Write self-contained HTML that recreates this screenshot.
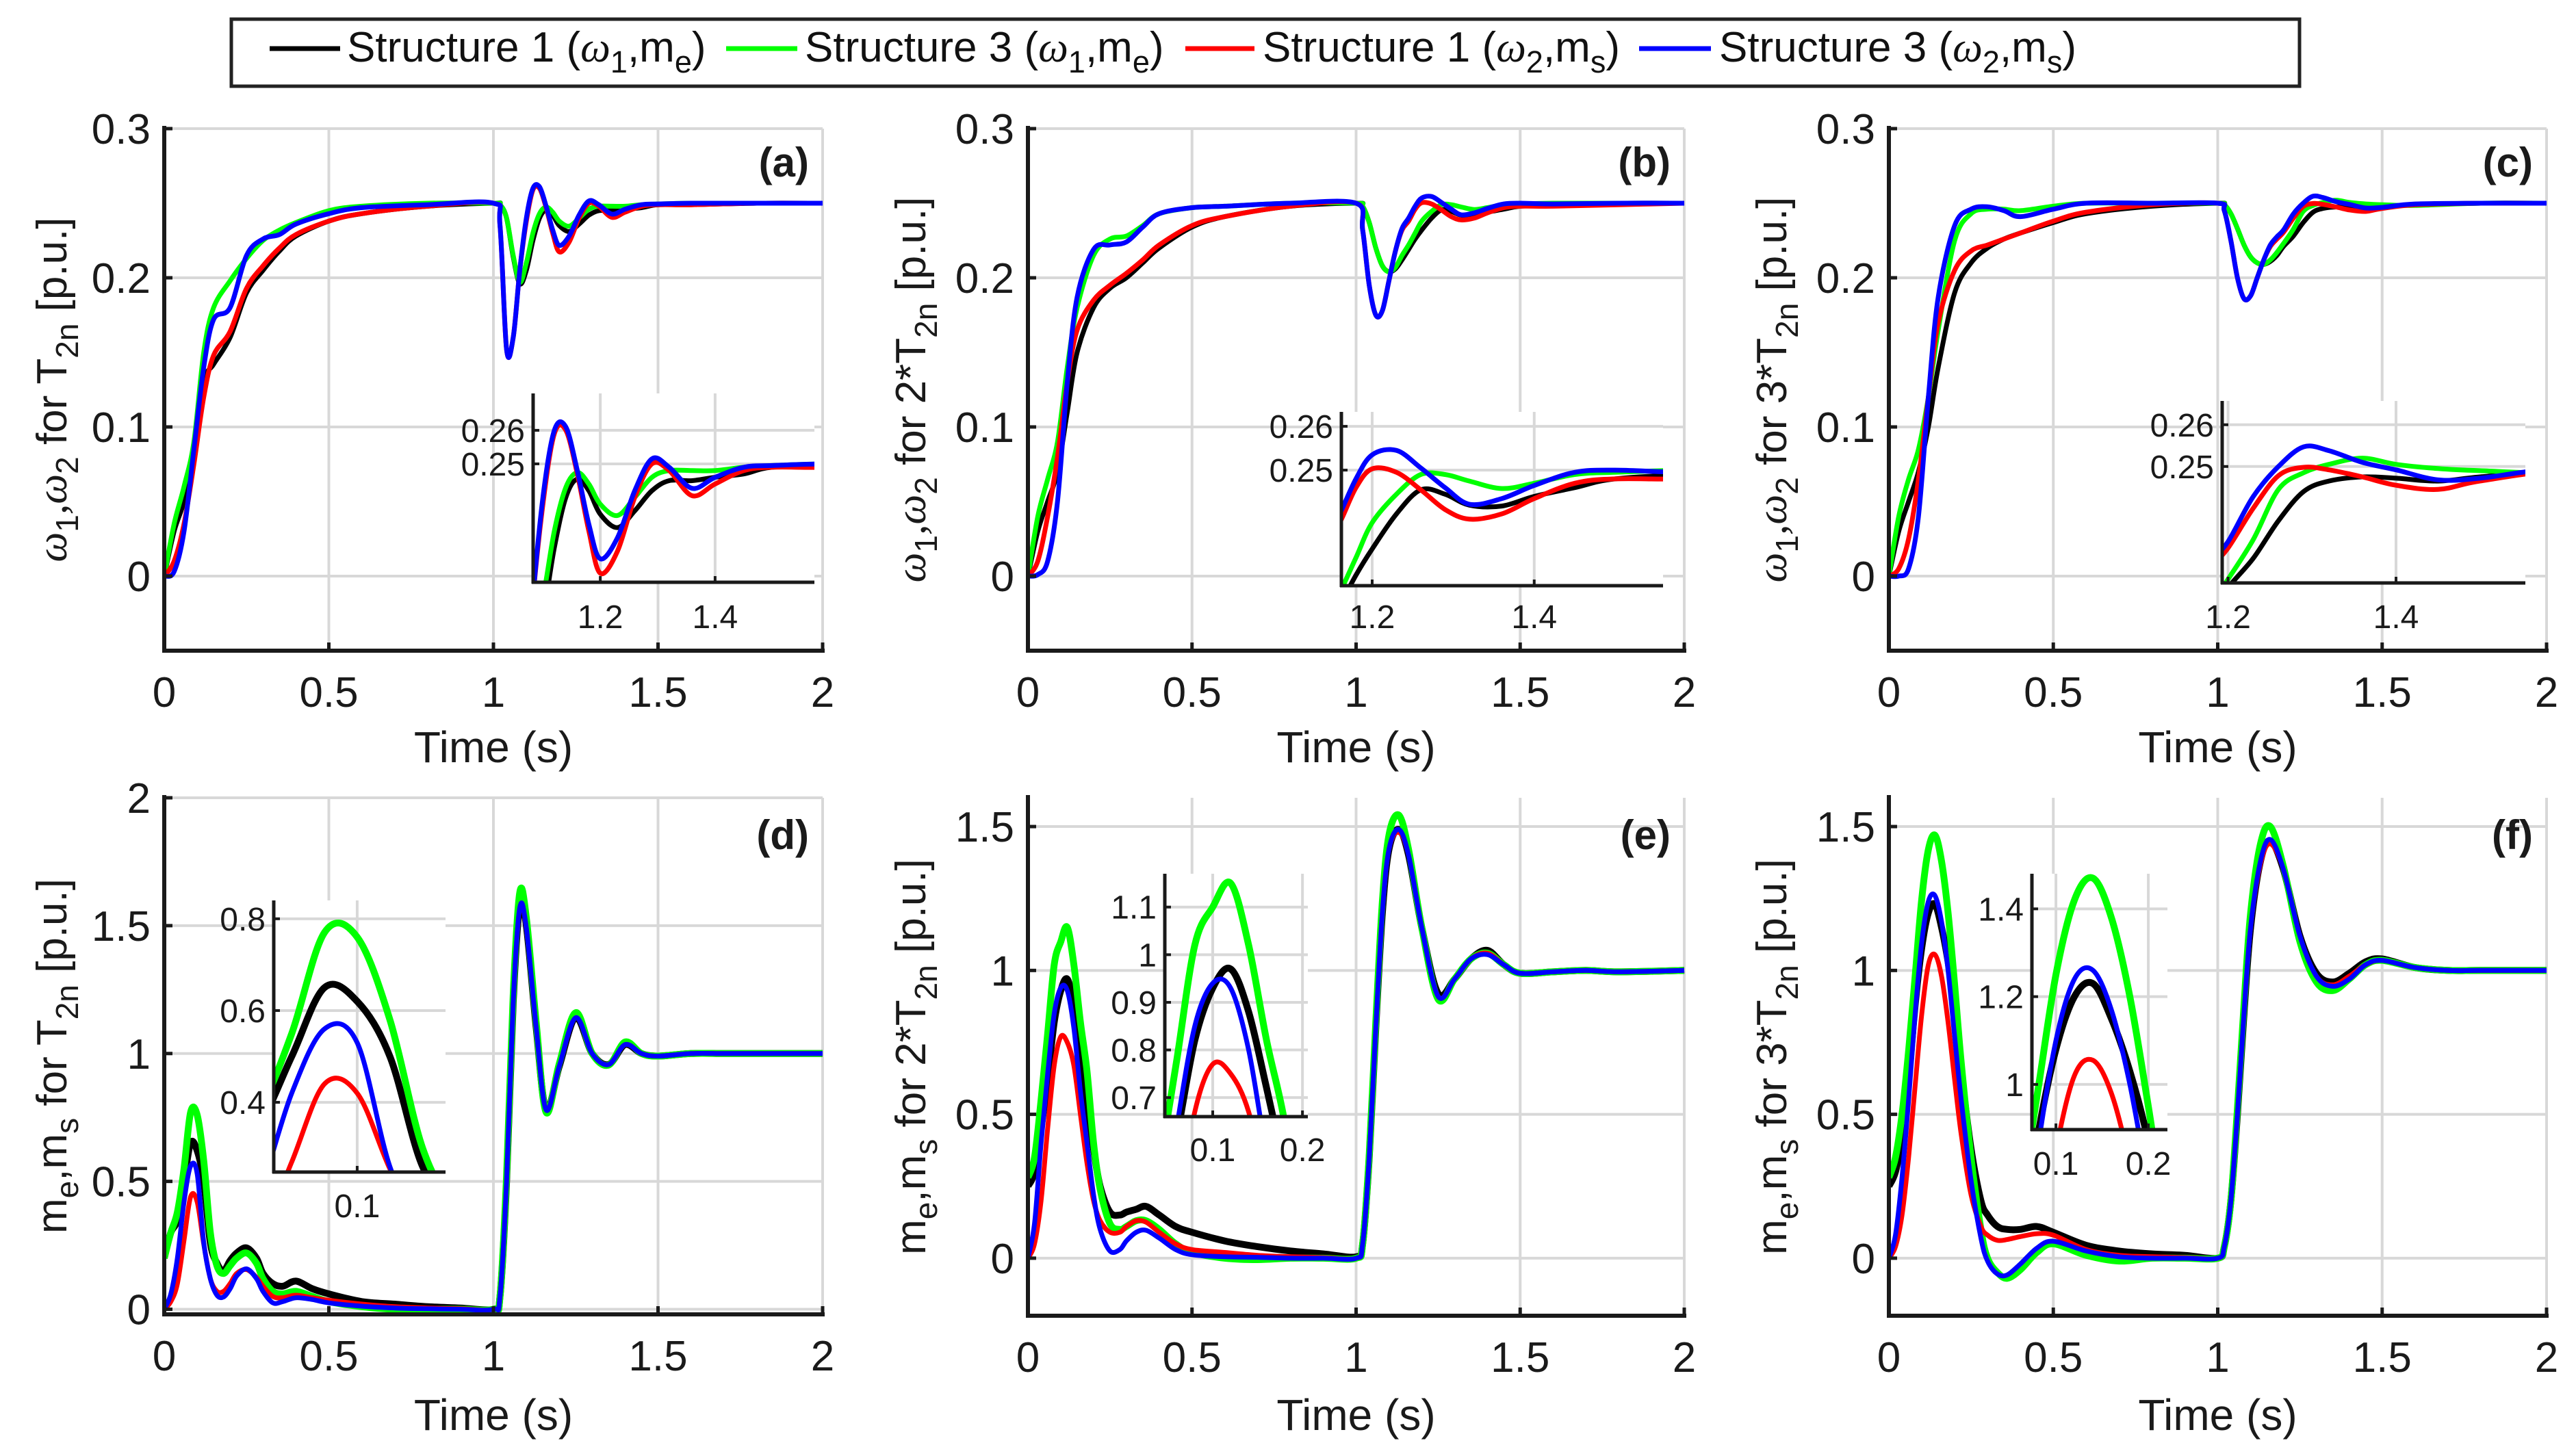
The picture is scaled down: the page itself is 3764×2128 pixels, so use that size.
<!DOCTYPE html>
<html><head><meta charset="utf-8"><style>
html,body{margin:0;padding:0;background:#fff;width:3764px;height:2128px;overflow:hidden;}
svg{display:block;font-family:"Liberation Sans",sans-serif;}
</style></head><body>
<svg id="fig" xmlns="http://www.w3.org/2000/svg" width="3764" height="2128" viewBox="0 0 3764 2128">
<rect x="0" y="0" width="3764" height="2128" fill="#fff"/>
<g id="legend">
<rect x="338" y="28" width="3022" height="98" fill="#fff" stroke="#222" stroke-width="5"/>
<line x1="394" y1="71" x2="497" y2="71" stroke="#000" stroke-width="7"/>
<text x="507" y="90" font-size="62" fill="#111">Structure 1 (<tspan font-family="Liberation Serif" font-style="italic">ω</tspan><tspan font-size="45" dy="16">1</tspan><tspan dy="-16">,m</tspan><tspan font-size="45" dy="16">e</tspan><tspan dy="-16">)</tspan></text>
<line x1="1061" y1="71" x2="1165" y2="71" stroke="#00ff00" stroke-width="7"/>
<text x="1176" y="90" font-size="62" fill="#111">Structure 3 (<tspan font-family="Liberation Serif" font-style="italic">ω</tspan><tspan font-size="45" dy="16">1</tspan><tspan dy="-16">,m</tspan><tspan font-size="45" dy="16">e</tspan><tspan dy="-16">)</tspan></text>
<line x1="1732" y1="71" x2="1833" y2="71" stroke="#ff0000" stroke-width="7"/>
<text x="1845" y="90" font-size="62" fill="#111">Structure 1 (<tspan font-family="Liberation Serif" font-style="italic">ω</tspan><tspan font-size="45" dy="16">2</tspan><tspan dy="-16">,m</tspan><tspan font-size="45" dy="16">s</tspan><tspan dy="-16">)</tspan></text>
<line x1="2395" y1="71" x2="2500" y2="71" stroke="#0000ff" stroke-width="7"/>
<text x="2512" y="90" font-size="62" fill="#111">Structure 3 (<tspan font-family="Liberation Serif" font-style="italic">ω</tspan><tspan font-size="45" dy="16">2</tspan><tspan dy="-16">,m</tspan><tspan font-size="45" dy="16">s</tspan><tspan dy="-16">)</tspan></text>
</g>
</svg>
<script>
// ---------- data ----------
const tTop = [0,0.03,0.06,0.09,0.12,0.15,0.2,0.25,0.3,0.35,0.4,0.5,0.6,0.8,1.0,1.02,1.04,1.06,1.08,1.1,1.12,1.14,1.16,1.18,1.2,1.23,1.26,1.29,1.32,1.36,1.4,1.45,1.5,1.6,1.8,2.0];
const tBot = [0,0.02,0.04,0.06,0.08,0.1,0.12,0.14,0.16,0.18,0.2,0.22,0.25,0.28,0.3,0.33,0.36,0.4,0.45,0.5,0.6,0.7,0.8,0.9,1.0,1.02,1.04,1.06,1.08,1.1,1.13,1.16,1.2,1.25,1.3,1.35,1.4,1.45,1.5,1.6,1.7,1.8,2.0];

// panel (a)
const aBlack = [0,0.03,0.05,0.08,0.13,0.142,0.16,0.19,0.205,0.218,0.228,0.238,0.243,0.248,0.25, 0.249,0.24,0.214,0.196,0.205,0.225,0.24,0.2455,0.242,0.235,0.231,0.236,0.242,0.245,0.245,0.246,0.247,0.249,0.249,0.25,0.25];
const aGreen = [0,0.035,0.06,0.09,0.15,0.18,0.198,0.213,0.225,0.232,0.237,0.245,0.248,0.25,0.25, 0.249,0.24,0.215,0.197,0.21,0.23,0.243,0.2474,0.244,0.238,0.2346,0.24,0.246,0.248,0.248,0.248,0.249,0.2495,0.25,0.25,0.25];
const aRed   = [0,0.01,0.035,0.075,0.12,0.148,0.164,0.193,0.208,0.22,0.229,0.238,0.243,0.248,0.25, 0.235,0.152,0.16,0.205,0.238,0.259,0.26,0.247,0.23,0.2174,0.224,0.24,0.25,0.248,0.2405,0.244,0.248,0.249,0.249,0.25,0.25];
const aBlue  = [0,0.003,0.03,0.085,0.14,0.172,0.18,0.215,0.226,0.229,0.236,0.243,0.247,0.249,0.25, 0.235,0.152,0.16,0.205,0.24,0.26,0.261,0.248,0.232,0.2217,0.228,0.242,0.2515,0.249,0.2427,0.246,0.249,0.2495,0.25,0.25,0.25];
// panel (b)
const bBlack = [0,0.03,0.05,0.07,0.11,0.15,0.18,0.193,0.2,0.21,0.22,0.234,0.241,0.248, 0.25,0.248,0.237,0.22,0.208,0.204,0.206,0.212,0.219,0.226,0.232,0.24,0.2455,0.2445,0.242,0.2418,0.244,0.246,0.248,0.249,0.25,0.25];
const bGreen = [0,0.04,0.065,0.09,0.14,0.18,0.215,0.226,0.228,0.235,0.243,0.247,0.248,0.25, 0.25,0.248,0.237,0.22,0.208,0.204,0.207,0.215,0.222,0.23,0.238,0.2445,0.249,0.249,0.2475,0.2458,0.247,0.249,0.2495,0.25,0.25,0.25];
const bRed   = [0,0.01,0.04,0.08,0.13,0.165,0.185,0.195,0.203,0.212,0.222,0.235,0.241,0.248, 0.25,0.232,0.195,0.175,0.178,0.198,0.218,0.232,0.238,0.246,0.2503,0.2495,0.2455,0.241,0.2388,0.24,0.2435,0.247,0.248,0.248,0.249,0.25];
const bBlue  = [0,0.001,0.01,0.05,0.13,0.187,0.219,0.222,0.224,0.234,0.243,0.247,0.248,0.25, 0.25,0.232,0.195,0.175,0.178,0.198,0.218,0.233,0.24,0.248,0.2535,0.2545,0.2505,0.246,0.2422,0.2435,0.2465,0.2495,0.25,0.2495,0.25,0.25];
// panel (c)
const cBlack = [0,0.03,0.05,0.07,0.1,0.14,0.19,0.21,0.22,0.226,0.23,0.237,0.243,0.248, 0.25,0.249,0.243,0.233,0.222,0.214,0.21,0.209,0.211,0.215,0.221,0.228,0.237,0.244,0.2465,0.2475,0.2472,0.2465,0.2475,0.249,0.25,0.25];
const cGreen = [0,0.04,0.065,0.085,0.12,0.165,0.225,0.243,0.246,0.246,0.245,0.248,0.25,0.25, 0.25,0.249,0.243,0.233,0.222,0.214,0.21,0.209,0.212,0.217,0.223,0.2325,0.2445,0.2485,0.2505,0.252,0.2505,0.2495,0.249,0.2485,0.25,0.25];
const cRed   = [0,0.005,0.025,0.065,0.12,0.17,0.205,0.218,0.222,0.226,0.23,0.238,0.244,0.249, 0.25,0.245,0.225,0.2,0.186,0.188,0.2,0.212,0.221,0.226,0.2305,0.24,0.2478,0.2498,0.2492,0.2475,0.2455,0.2445,0.2465,0.249,0.25,0.25];
const cBlue  = [0,0.0,0.005,0.04,0.12,0.187,0.235,0.246,0.2476,0.245,0.241,0.246,0.25,0.25, 0.25,0.245,0.225,0.2,0.186,0.188,0.2,0.212,0.222,0.2275,0.232,0.2428,0.25,0.2547,0.2538,0.251,0.2492,0.2468,0.2472,0.2495,0.25,0.25];
// panel (d)
const dBlack = [0.2,0.3,0.35,0.5,0.65,0.62,0.5,0.26,0.18,0.15,0.19,0.22,0.24,0.2,0.14,0.1,0.09,0.11,0.08,0.06,0.03,0.02,0.01,0.005,0, 0.05,0.5,1.2,1.58,1.5,1.1,0.78,0.95,1.14,1.0,0.957,1.035,1.0,0.99,1.0,1.0,1.0,1.0];
const dGreen = [0.2,0.3,0.38,0.55,0.77,0.76,0.58,0.3,0.17,0.14,0.17,0.2,0.22,0.18,0.12,0.07,0.06,0.07,0.05,0.03,0.01,0,0,0,0, 0.05,0.52,1.23,1.63,1.53,1.12,0.77,0.96,1.16,1.0,0.955,1.045,1.0,0.99,1.0,1.0,1.0,1.0];
const dRed   = [0,0.03,0.1,0.27,0.44,0.42,0.255,0.12,0.07,0.07,0.1,0.14,0.155,0.125,0.09,0.05,0.045,0.055,0.045,0.035,0.02,0.01,0.005,0.002,0, 0.05,0.5,1.2,1.57,1.49,1.1,0.78,0.95,1.14,1.0,0.957,1.035,1.0,0.99,1.0,1.0,1.0,1.0];
const dBlue  = [0,0.06,0.2,0.42,0.56,0.53,0.26,0.12,0.055,0.048,0.08,0.13,0.158,0.12,0.07,0.025,0.03,0.045,0.038,0.025,0.012,0.005,0.002,0,0, 0.05,0.5,1.2,1.57,1.49,1.1,0.78,0.95,1.14,1.0,0.957,1.035,1.0,0.99,1.0,1.0,1.0,1.0];
// panel (e)
const eBlack = [0.25,0.3,0.45,0.62,0.82,0.93,0.97,0.88,0.72,0.55,0.38,0.25,0.16,0.15,0.16,0.17,0.18,0.15,0.11,0.09,0.06,0.04,0.025,0.015,0.005, 0.05,0.35,0.8,1.2,1.42,1.49,1.4,1.15,0.92,0.97,1.04,1.07,1.02,0.99,0.995,1.0,0.995,1.0];
const eGreen = [0.28,0.35,0.55,0.78,1.02,1.1,1.15,1.02,0.82,0.65,0.4,0.24,0.12,0.1,0.11,0.13,0.13,0.1,0.05,0.02,0.0,-0.005,0,0,0, 0.05,0.36,0.82,1.24,1.47,1.54,1.42,1.15,0.9,0.97,1.04,1.06,1.02,0.99,0.995,1.0,0.995,1.0];
const eRed   = [0,0.05,0.2,0.45,0.67,0.77,0.75,0.67,0.5,0.33,0.2,0.13,0.09,0.09,0.11,0.13,0.125,0.09,0.05,0.03,0.02,0.01,0.005,0.002,0, 0.05,0.35,0.8,1.2,1.42,1.48,1.4,1.15,0.91,0.97,1.04,1.06,1.02,0.99,0.995,1.0,0.995,1.0];
const eBlue  = [0,0.12,0.4,0.64,0.85,0.94,0.93,0.8,0.58,0.4,0.22,0.1,0.025,0.03,0.06,0.09,0.097,0.07,0.03,0.012,0.005,0.003,0,0,0, 0.05,0.35,0.8,1.2,1.42,1.49,1.4,1.15,0.91,0.97,1.04,1.055,1.02,0.99,0.995,1.0,0.995,1.0];
// panel (f)
const fBlack = [0.25,0.3,0.42,0.62,0.88,1.08,1.2,1.23,1.15,1.03,0.87,0.65,0.38,0.2,0.15,0.11,0.1,0.1,0.11,0.09,0.045,0.025,0.015,0.01,0, 0.04,0.2,0.5,0.85,1.15,1.38,1.45,1.35,1.12,0.99,0.96,0.99,1.03,1.04,1.01,1.0,1.0,1.0];
const fGreen = [0.28,0.35,0.5,0.72,0.98,1.25,1.42,1.47,1.38,1.2,0.95,0.68,0.35,0.1,0.0,-0.05,-0.07,-0.04,0.02,0.05,0.01,-0.01,0,0,0, 0.04,0.2,0.52,0.88,1.2,1.44,1.5,1.36,1.1,0.96,0.93,0.97,1.02,1.035,1.01,1.0,1.0,1.0];
const fRed   = [0,0.04,0.15,0.35,0.6,0.85,1.02,1.055,0.98,0.82,0.62,0.43,0.22,0.11,0.08,0.062,0.065,0.075,0.085,0.08,0.03,0.01,0.005,0.002,0, 0.04,0.2,0.5,0.85,1.15,1.37,1.44,1.35,1.12,0.98,0.95,0.98,1.02,1.035,1.01,1.0,1.0,1.0];
const fBlue  = [0,0.08,0.28,0.55,0.85,1.1,1.24,1.26,1.17,1.0,0.77,0.55,0.27,0.07,-0.01,-0.055,-0.058,-0.02,0.035,0.059,0.025,0.005,0,0,0, 0.04,0.2,0.5,0.85,1.15,1.38,1.455,1.35,1.12,0.98,0.945,0.97,1.02,1.035,1.01,1.0,1.0,1.0];

const xTicks = [0,0.5,1,1.5,2];
const yTicksTop = [0,0.1,0.2,0.3];
const yTicksD = [0,0.5,1,1.5,2];
const yTicksEF = [0,0.5,1,1.5];

// ---------- layout ----------
const NS = 'http://www.w3.org/2000/svg';
const svg = document.getElementById('fig');
const COLORS = ['#000000','#00ff00','#ff0000','#0000ff'];
const SNAMES = ['structure1-w1','structure3-w1','structure1-w2','structure3-w2'];

const panels = [
 {id:'a', x0:240, x1:1202, yt:188, yb:951, ymin:-0.05, ymax:0.3, t:tTop, s:[aBlack,aGreen,aRed,aBlue], yticks:yTicksTop, top:true, mult:'',
  inset:{l:779,r:1190,t:575,b:851,xmin:1.083,xmax:1.573,ymin:0.2147,ymax:0.271,xt:[1.2,1.4],yt:[0.25,0.26],xly:901}},
 {id:'b', x0:1502, x1:2461, yt:188, yb:951, ymin:-0.05, ymax:0.3, t:tTop, s:[bBlack,bGreen,bRed,bBlue], yticks:yTicksTop, top:true, mult:'2*',
  inset:{l:1960,r:2430,t:602,b:856,xmin:1.162,xmax:1.559,ymin:0.2236,ymax:0.2633,xt:[1.2,1.4],yt:[0.25,0.26],xly:901}},
 {id:'c', x0:2760, x1:3721, yt:188, yb:951, ymin:-0.05, ymax:0.3, t:tTop, s:[cBlack,cGreen,cRed,cBlue], yticks:yTicksTop, top:true, mult:'3*',
  inset:{l:3247,r:3690,t:586,b:852,xmin:1.193,xmax:1.554,ymin:0.2221,ymax:0.2657,xt:[1.2,1.4],yt:[0.25,0.26],xly:901}},
 {id:'d', x0:240, x1:1202, yt:1166, yb:1921, ymin:-0.02, ymax:2, t:tBot, s:[dBlack,dGreen,dRed,dBlue], yticks:yTicksD, top:false, mult:'',
  inset:{l:400,r:651,t:1316,b:1713,xmin:0.049,xmax:0.154,ymin:0.248,ymax:0.84,xt:[0.1],yt:[0.4,0.6,0.8],xly:1762}},
 {id:'e', x0:1502, x1:2461, yt:1166, yb:1923, ymin:-0.2, ymax:1.6, t:tBot, s:[eBlack,eGreen,eRed,eBlue], yticks:yTicksEF, top:false, mult:'2*',
  inset:{l:1702,r:1911,t:1277,b:1632,xmin:0.0466,xmax:0.206,ymin:0.66,ymax:1.17,xt:[0.1,0.2],yt:[0.7,0.8,0.9,1,1.1],xly:1680}},
 {id:'f', x0:2760, x1:3721, yt:1166, yb:1923, ymin:-0.2, ymax:1.6, t:tBot, s:[fBlack,fGreen,fRed,fBlue], yticks:yTicksEF, top:false, mult:'3*',
  inset:{l:2969,r:3167,t:1277,b:1651,xmin:0.074,xmax:0.2207,ymin:0.897,ymax:1.48,xt:[0.1,0.2],yt:[1,1.2,1.4],xly:1700}}
];

function el(tag, parent){ const e=document.createElementNS(NS,tag); parent.appendChild(e); return e; }
function line(parent,x1,y1,x2,y2,stroke,sw,name){
  const e=el('line',parent);
  e.setAttribute('x1',x1); e.setAttribute('y1',y1); e.setAttribute('x2',x2); e.setAttribute('y2',y2);
  e.setAttribute('stroke',stroke); e.setAttribute('stroke-width',sw);
  
  
  return e;
}
function text(parent,x,y,str,size,anchor,name){
  const e=el('text',parent);
  e.setAttribute('x',x); e.setAttribute('y',y); e.setAttribute('font-size',size);
  e.setAttribute('text-anchor',anchor); e.setAttribute('fill','#1a1a1a');
  e.textContent=str;
  
  
  return e;
}
function smoothPath(pts){
  let d='M'+pts[0][0].toFixed(1)+','+pts[0][1].toFixed(1);
  for(let i=0;i<pts.length-1;i++){
    const p0=pts[i-1]||pts[i], p1=pts[i], p2=pts[i+1], p3=pts[i+2]||pts[i+1];
    const c1x=p1[0]+(p2[0]-p0[0])/6, c1y=p1[1]+(p2[1]-p0[1])/6;
    const c2x=p2[0]-(p3[0]-p1[0])/6, c2y=p2[1]-(p3[1]-p1[1])/6;
    d+=' C'+c1x.toFixed(1)+','+c1y.toFixed(1)+' '+c2x.toFixed(1)+','+c2y.toFixed(1)+' '+p2[0].toFixed(1)+','+p2[1].toFixed(1);
  }
  return d;
}
const defs = el('defs', svg);



function drawSeries(g, P, xs, ys, clipId, prefix){
  P.s.forEach((vals,k)=>{
    const pts = P.t.map((t,i)=>[xs(t), ys(vals[i])]);
    const p = el('path', g);
    p.setAttribute('d', smoothPath(pts));
    p.setAttribute('fill','none');
    p.setAttribute('stroke', COLORS[k]);
    let sw = 7;
    if(!P.top && (k===0||k===1)) sw = 10;
    p.setAttribute('stroke-width', sw);
    p.setAttribute('stroke-linejoin','round');
    p.setAttribute('clip-path','url(#'+clipId+')');
    
    
  });
}

panels.forEach(P=>{
  const g = el('g', svg);
  
  
  const xs = t => P.x0 + (t-0)/(2-0)*(P.x1-P.x0);
  const ys = v => P.yb - (v-P.ymin)/(P.ymax-P.ymin)*(P.yb-P.yt);
  xTicks.forEach(t=>{ line(g, xs(t), P.yt, xs(t), P.yb, '#d8d8d8', 4, 'grid-x-'+P.id); });
  P.yticks.forEach(v=>{ line(g, P.x0, ys(v), P.x1, ys(v), '#d8d8d8', 4, 'grid-y-'+P.id); });
  const cp = el('clipPath', defs);
  cp.setAttribute('id','clip-'+P.id);
  
  
  const cr = el('rect', cp);
  cr.setAttribute('x',P.x0); cr.setAttribute('y',P.yt-30); cr.setAttribute('width',P.x1-P.x0+6); cr.setAttribute('height',P.yb-P.yt+30);
  
  
  drawSeries(g, P, xs, ys, 'clip-'+P.id, 'line-'+P.id);
  line(g, P.x0, P.yt-4, P.x0, P.yb+3, '#1a1a1a', 6, 'y-axis-'+P.id);
  line(g, P.x0-3, P.yb, P.x1+3, P.yb, '#1a1a1a', 6, 'x-axis-'+P.id);
  xTicks.forEach(t=>{
    line(g, xs(t), P.yb, xs(t), P.yb-12, '#1a1a1a', 5, 'x-tick-'+P.id);
    text(g, xs(t), P.yb+82, String(t), 62, 'middle', 'x-tick-label-'+P.id);
  });
  P.yticks.forEach(v=>{
    line(g, P.x0, ys(v), P.x0+12, ys(v), '#1a1a1a', 5, 'y-tick-'+P.id);
    text(g, P.x0-20, ys(v)+22, String(v), 62, 'end', 'y-tick-label-'+P.id);
  });
  text(g, (P.x0+P.x1)/2, P.top?1114:2090, 'Time (s)', 64, 'middle', 'x-axis-title-'+P.id);
  const lab = text(g, P.x1-20, P.top?258:1241, '('+P.id+')', 60, 'end', 'panel-label-'+P.id);
  lab.setAttribute('font-weight','bold');
  const cx = P.x0 - (P.id==='a'||P.id==='d'?165:172);
  const cy = (P.yt+P.yb)/2;
  const yl = el('text', g);
  yl.setAttribute('transform','translate('+(cx+22)+','+cy+') rotate(-90)');
  yl.setAttribute('text-anchor','middle'); yl.setAttribute('font-size','62'); yl.setAttribute('fill','#1a1a1a');
  
  
  const a1 = P.top ? 'ω' : 'm', s1 = P.top ? '1' : 'e', a2 = P.top ? ',ω' : ',m', s2 = P.top ? '2' : 's';
  const parts = [[a1,0,P.top],[s1,1],[a2,0,P.top],[s2,1],[' for '+P.mult+'T',0],['2n',1],[' [p.u.]',0]];
  let cur = 0;
  parts.forEach(pt=>{
    const ts = el('tspan', yl);
    ts.textContent = pt[0];
    const target = pt[1] ? 17 : 0;
    ts.setAttribute('dy', target-cur); cur = target;
    if(pt[1]) ts.setAttribute('font-size','46');
    if(pt[2]) { ts.setAttribute('font-family','Liberation Serif'); ts.setAttribute('font-style','italic'); }
    
    
  });
  const I = P.inset;
  const gi = el('g', g);
  
  
  const bg = el('rect', gi);
  bg.setAttribute('x',I.l); bg.setAttribute('y',I.t); bg.setAttribute('width',I.r-I.l); bg.setAttribute('height',I.b-I.t); bg.setAttribute('fill','#fff');
  
  
  const ixs = t => I.l + (t-I.xmin)/(I.xmax-I.xmin)*(I.r-I.l);
  const iys = v => I.b - (v-I.ymin)/(I.ymax-I.ymin)*(I.b-I.t);
  I.xt.forEach(t=>{ line(gi, ixs(t), I.t, ixs(t), I.b, '#d8d8d8', 4, 'inset-grid-x-'+P.id); });
  I.yt.forEach(v=>{ line(gi, I.l, iys(v), I.r, iys(v), '#d8d8d8', 4, 'inset-grid-y-'+P.id); });
  const icp = el('clipPath', defs);
  icp.setAttribute('id','iclip-'+P.id);
  
  
  const icr = el('rect', icp);
  icr.setAttribute('x',I.l); icr.setAttribute('y',I.t); icr.setAttribute('width',I.r-I.l); icr.setAttribute('height',I.b-I.t);
  
  
  drawSeries(gi, P, ixs, iys, 'iclip-'+P.id, 'inset-line-'+P.id);
  line(gi, I.l, I.t, I.l, I.b+2, '#1a1a1a', 5, 'inset-y-axis-'+P.id);
  line(gi, I.l-2, I.b, I.r, I.b, '#1a1a1a', 5, 'inset-x-axis-'+P.id);
  I.xt.forEach(t=>{
    line(gi, ixs(t), I.b, ixs(t), I.b-9, '#1a1a1a', 4, 'inset-x-tick-'+P.id);
    text(gi, ixs(t), I.xly+17, String(t), 48, 'middle', 'inset-x-tick-label-'+P.id);
  });
  I.yt.forEach(v=>{
    line(gi, I.l, iys(v), I.l+9, iys(v), '#1a1a1a', 4, 'inset-y-tick-'+P.id);
    text(gi, I.l-12, iys(v)+17, String(v), 48, 'end', 'inset-y-tick-label-'+P.id);
  });
});
</script>
</body></html>
